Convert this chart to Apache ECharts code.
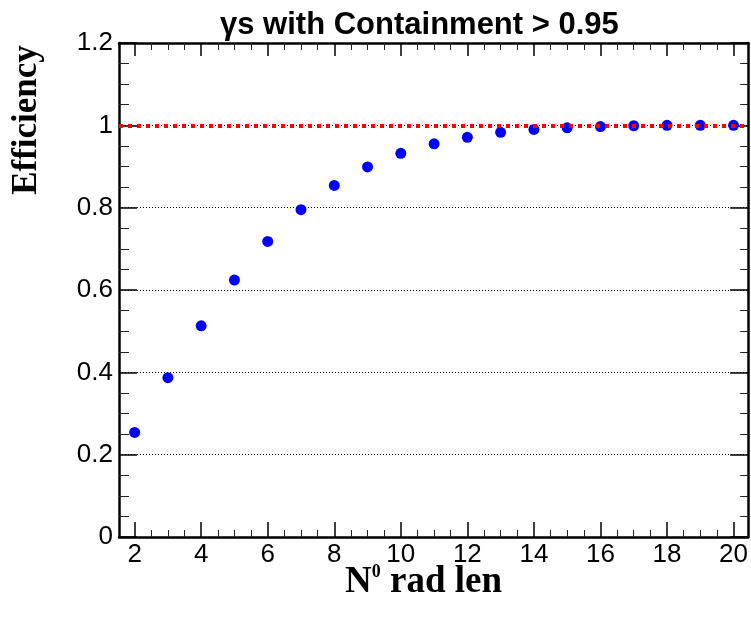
<!DOCTYPE html>
<html>
<head>
<meta charset="utf-8">
<script src="https://cdn.jsdelivr.net/npm/echarts@6/dist/echarts.min.js"></script>
<style>
    html, body {margin: 0; padding: 0; background: #fff;}
    #chart {width: 751px; height: 619px;}
</style>
</head>
<body>
<div id="chart"></div>
<script>
var radLen = [2, 3, 4, 5, 6, 7, 8, 9, 10, 11, 12, 13, 14, 15, 16, 17, 18, 19, 20];
var efficiency = [0.254, 0.387, 0.513, 0.624, 0.718, 0.795, 0.854, 0.899, 0.932, 0.955,
    0.971, 0.983, 0.990, 0.994, 0.997, 0.999, 1.0, 1.0, 1.0];
var xMajorTicks = [2, 4, 6, 8, 10, 12, 14, 16, 18, 20];
var xMinorTicks = [2.5, 3, 3.5, 4.5, 5, 5.5, 6.5, 7, 7.5, 8.5, 9, 9.5, 10.5, 11, 11.5,
    12.5, 13, 13.5, 14.5, 15, 15.5, 16.5, 17, 17.5, 18.5, 19, 19.5];
var refLevel = 1;

var chart = echarts.init(document.getElementById('chart'), null, {renderer: 'canvas'});

var labelFont = {color: '#000', fontSize: 26, fontFamily: 'Liberation Sans, Arial, sans-serif'};
var serifBold = 'Liberation Serif, Times New Roman, serif';

// bottom/top x axes, majors and minors split so the tick lengths can differ
var xAxisBase = function (pos, major, len, showLine, showLabel) {
    return {
        type: 'value',
        position: pos,
        min: 1.53,
        max: 20.44,
        axisLine: {show: showLine, onZero: false, lineStyle: {color: '#000', width: 2.5}},
        axisTick: {
            show: true, inside: true, length: len,
            customValues: major ? xMajorTicks : xMinorTicks,
            lineStyle: {color: major ? '#000' : '#222', width: major ? 1.5 : 1}
        },
        axisLabel: showLabel ? Object.assign({margin: 5, customValues: xMajorTicks}, labelFont) : {show: false},
        splitLine: {show: false}
    };
};

var option = {
    animation: false,
    backgroundColor: '#fff',
    title: {
        text: 'γs with Containment > 0.95',
        left: 215,
        top: 5,
        textStyle: {
            color: '#000', fontSize: 31, fontWeight: 'bold',
            fontFamily: 'Liberation Sans, Arial, sans-serif'
        }
    },
    grid: {left: 119, right: 2, top: 43, bottom: 82},
    xAxis: [
        xAxisBase('bottom', true, 15, true, true),
        xAxisBase('bottom', false, 7, false, false),
        xAxisBase('top', true, 13, true, false),
        xAxisBase('top', false, 7, false, false)
    ],
    yAxis: [{
        type: 'value',
        position: 'left',
        min: 0,
        max: 1.2,
        interval: 0.2,
        axisLine: {show: true, lineStyle: {color: '#000', width: 2.5}},
        axisTick: {inside: true, length: 18, lineStyle: {color: '#000', width: 1.5}},
        minorTick: {show: true, splitNumber: 4, length: 10, lineStyle: {color: '#222', width: 1}},
        axisLabel: Object.assign({margin: 6, formatter: function (v) {
            return String(Math.round(v * 10) / 10);
        }}, labelFont),
        splitLine: {show: true, lineStyle: {color: '#000', width: 1, type: [1, 2]}}
    }, {
        type: 'value',
        position: 'right',
        min: 0,
        max: 1.2,
        interval: 0.2,
        axisLine: {show: true, lineStyle: {color: '#000', width: 2.5}},
        axisTick: {inside: true, length: 18, lineStyle: {color: '#000', width: 1.5}},
        minorTick: {show: true, splitNumber: 4, length: 8, lineStyle: {color: '#222', width: 1}},
        axisLabel: {show: false},
        splitLine: {show: false}
    }],
    graphic: [{
        type: 'text',
        x: 27,
        y: 120,
        rotation: Math.PI / 2,
        style: {
            text: 'Efficiency',
            fill: '#000',
            font: 'bold 35px "Liberation Serif", "Times New Roman", serif',
            align: 'center',
            verticalAlign: 'middle'
        }
    }, {
        type: 'text',
        left: 345,
        top: 563,
        style: {
            text: '{b|N}{s|0}{b| rad len}',
            fill: '#000',
            rich: {
                b: {fontSize: 37, fontWeight: 'bold', fontFamily: serifBold, fill: '#000', lineHeight: 39},
                s: {fontSize: 18, fontWeight: 'bold', fontFamily: serifBold, fill: '#000', verticalAlign: 'top', lineHeight: 39}
            }
        }
    }],
    series: [{
        type: 'scatter',
        xAxisIndex: 0,
        yAxisIndex: 0,
        symbol: 'circle',
        symbolSize: 11,
        itemStyle: {color: '#0000ff', opacity: 1},
        data: radLen.map(function (x, i) {
            return [x, efficiency[i]];
        }),
        markLine: {
            silent: true,
            symbol: 'none',
            label: {show: false},
            lineStyle: {color: '#ff0000', width: 4, type: [4, 5], cap: 'butt', opacity: 1},
            data: [{yAxis: refLevel}]
        }
    }]
};

chart.setOption(option);
</script>
</body>
</html>
